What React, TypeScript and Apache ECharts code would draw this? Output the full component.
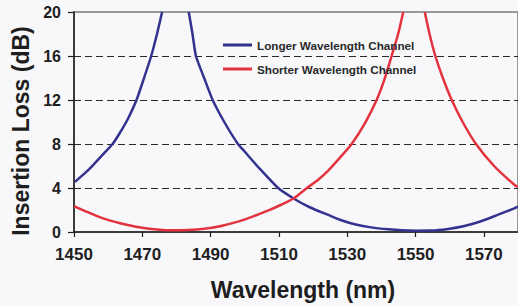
import React, { useEffect, useRef } from "react";
import * as echarts from "echarts";

const seriesNames = ["Longer Wavelength Channel", "Shorter Wavelength Channel"];

// [wavelength (nm), insertion loss (dB)]; null marks where the curve leaves the top of the plot
const longerChannel: [number, number | null][] = [
  [1450.3, 4.56], [1453.2, 5.35], [1455.6, 6.09], [1458.5, 7.06], [1461.3, 8.0], [1463.4, 9.0],
  [1465.8, 10.3], [1468.3, 12], [1470.4, 13.9], [1472.6, 16], [1474.3, 18], [1475.8, 20],
  [1479.7, null],
  [1483.6, 20], [1484.7, 18], [1485.7, 16], [1488.1, 14], [1490.6, 12], [1494, 10], [1498, 8],
  [1500, 7.3], [1504.1, 5.85], [1509.8, 4], [1514.3, 3.05], [1519, 2.25], [1524.5, 1.55],
  [1528.5, 1.05], [1532.5, 0.68], [1537, 0.42], [1542, 0.24], [1546, 0.15], [1550, 0.12],
  [1554.5, 0.13], [1559.5, 0.28], [1564.3, 0.55], [1569.2, 0.98], [1574, 1.55], [1578.9, 2.15],
  [1580, 2.3],
];

const shorterChannel: [number, number | null][] = [
  [1450, 2.36], [1454, 1.8], [1458.5, 1.24], [1463.5, 0.8], [1468.2, 0.48], [1472, 0.3],
  [1476, 0.18], [1481, 0.15], [1486, 0.22], [1490.3, 0.38], [1494, 0.62], [1498.3, 0.97],
  [1502.5, 1.42], [1507.1, 1.98], [1510.8, 2.5], [1514.3, 3.05], [1518.2, 4.0], [1521.5, 4.75],
  [1524.5, 5.6], [1528, 6.8], [1531.3, 8], [1535.2, 9.9], [1538.6, 12], [1541, 13.97], [1543, 16],
  [1544.9, 18], [1546.4, 20],
  [1549.6, null],
  [1552.7, 20], [1554.1, 18], [1555.8, 16], [1558, 14], [1560.6, 12], [1563.8, 10], [1567.7, 8],
  [1573, 6], [1578.9, 4.3], [1580, 4.1],
];

const xMin = 1450;
const xMax = 1580;
const xStep = 20;
const yMin = 0;
const yMax = 20;
const yStep = 4;

export default function App() {
  const ref = useRef<HTMLDivElement>(null);
  useEffect(() => {
    if (!ref.current) return;
    const chart = echarts.init(ref.current, null, { renderer: "svg" });
    const font = "'Liberation Sans', Arial, Helvetica, sans-serif";
    chart.setOption({
      animation: false,
      backgroundColor: "#f8f8fa",
      grid: {
        left: 74,
        top: 12,
        width: 446.6,
        height: 220,
        show: true,
        borderColor: "#7a7a7a",
        borderWidth: 1.5,
        backgroundColor: "transparent",
      },
      legend: {
        orient: "vertical",
        left: 218,
        top: 34,
        itemWidth: 29,
        itemHeight: 3,
        itemGap: 12,
        icon: "rect",
        textStyle: { fontFamily: font, fontWeight: "bold", fontSize: 11.7, color: "#2a2a2a" },
        data: seriesNames,
      },
      xAxis: {
        type: "value",
        min: xMin,
        max: xMax,
        interval: xStep,
        name: "Wavelength (nm)",
        nameLocation: "middle",
        nameGap: 46,
        nameTextStyle: {
          fontFamily: font,
          fontWeight: "bold",
          fontSize: 23,
          color: "#1e1e1e",
          padding: [0, 0, 0, 14],
        },
        axisLine: { lineStyle: { color: "#1e1e1e", width: 1.5 } },
        axisTick: { show: true, inside: false, length: 5, lineStyle: { color: "#1e1e1e", width: 1.2 } },
        axisLabel: {
          showMaxLabel: false,
          margin: 14,
          fontFamily: font,
          fontWeight: "bold",
          fontSize: 17,
          color: "#1e1e1e",
          formatter: (v: number) => String(v),
        },
        splitLine: { show: false },
      },
      yAxis: {
        type: "value",
        min: yMin,
        max: yMax,
        interval: yStep,
        name: "Insertion Loss (dB)",
        nameLocation: "middle",
        nameGap: 42,
        nameRotate: 90,
        nameTextStyle: {
          fontFamily: font,
          fontWeight: "bold",
          fontSize: 23,
          color: "#1e1e1e",
          padding: [0, 18, 0, 0],
        },
        axisLine: { show: true, lineStyle: { color: "#1e1e1e", width: 1.5 } },
        axisTick: { show: true, inside: false, length: 6, lineStyle: { color: "#1e1e1e", width: 1.2 } },
        axisLabel: { margin: 13, fontFamily: font, fontWeight: "bold", fontSize: 16, color: "#1e1e1e" },
        splitLine: {
          show: true,
          showMinLine: false,
          showMaxLine: false,
          lineStyle: { color: "#2a2a2a", width: 1, type: [7, 4] },
        },
      },
      series: [
        {
          name: seriesNames[0],
          type: "line",
          data: longerChannel,
          smooth: 0.2,
          showSymbol: false,
          connectNulls: false,
          color: "#33338f",
          lineStyle: { width: 2.5, color: "#33338f" },
          clip: true,
        },
        {
          name: seriesNames[1],
          type: "line",
          data: shorterChannel,
          smooth: 0.2,
          showSymbol: false,
          connectNulls: false,
          color: "#e2333f",
          lineStyle: { width: 2.5, color: "#e2333f" },
          clip: true,
        },
      ],
    });
    return () => chart.dispose();
  }, []);
  return (
    <div
      ref={ref}
      style={{ position: "absolute", left: 0, top: 0, width: 518, height: 306 }}
    />
  );
}
